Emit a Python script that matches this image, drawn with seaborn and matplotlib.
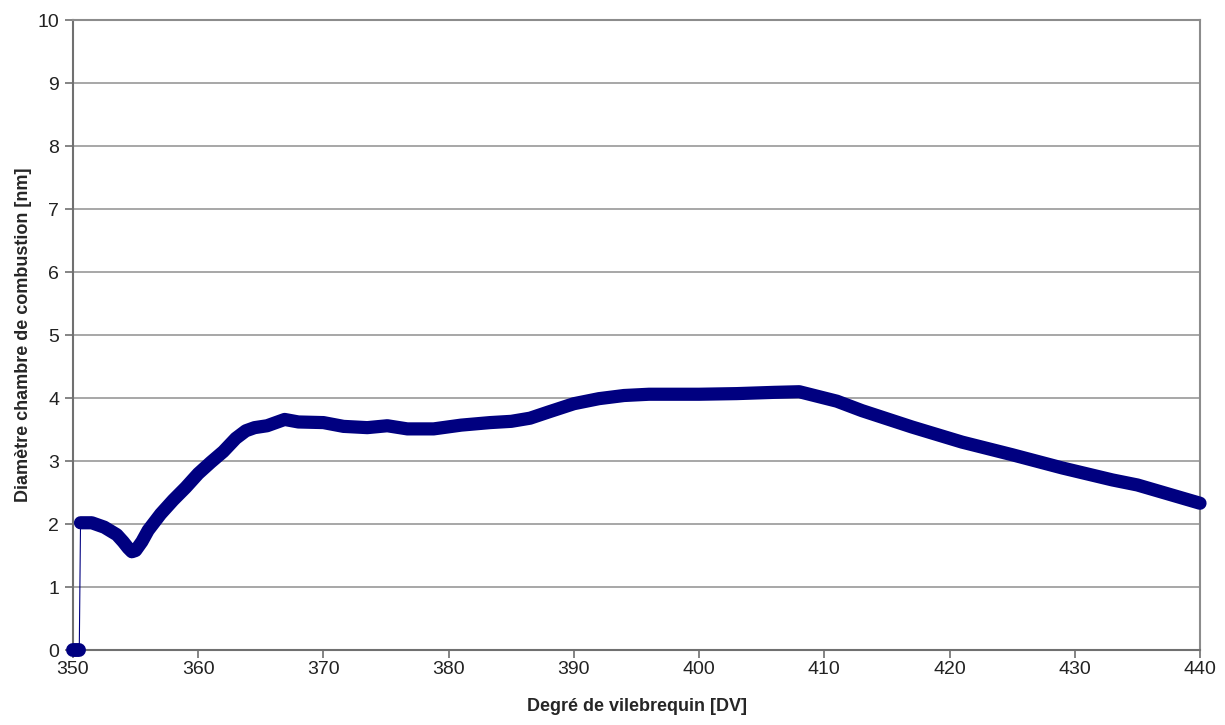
import numpy as np
import pandas as pd
import matplotlib
matplotlib.use("Agg")
import matplotlib.pyplot as plt
import seaborn as sns

# flat start at zero
x_zero = [350.0, 350.5]
y_zero = [0.0, 0.0]

# main curve
x_curve = [350.6, 351.5, 352.5, 353.5, 354.0, 354.4, 354.7, 355.0, 355.5, 356.0,
           357.0, 358.0,
           359.0, 360.0, 361.0, 362.0, 363.0, 363.8, 364.5, 365.5, 366.9, 368.0,
           370.0, 371.6, 373.5, 375.1, 376.7, 378.8, 381.0, 383.3, 385.0, 386.5,
           388.0, 390.0, 392.0, 394.0, 396.0, 400.0, 403.0, 406.0, 408.0, 409.0,
           411.0, 413.0, 417.0, 421.0, 425.0, 429.0, 433.0, 435.0, 440.0]
y_curve = [2.02, 2.02, 1.95, 1.83, 1.72, 1.62, 1.56, 1.58, 1.72, 1.90,
           2.16, 2.38,
           2.58, 2.80, 2.98, 3.15, 3.36, 3.48, 3.53, 3.56, 3.66, 3.62,
           3.61, 3.55, 3.53, 3.56, 3.51, 3.51, 3.57, 3.61, 3.63, 3.68,
           3.78, 3.91, 3.99, 4.04, 4.06, 4.06, 4.07, 4.09, 4.10, 4.05,
           3.95, 3.80, 3.54, 3.30, 3.10, 2.89, 2.70, 2.62, 2.33]

x_ticks = list(range(350, 441, 10))
y_ticks = list(range(0, 11))

sns.set_style("white")
plt.rcParams['font.family'] = ['Liberation Sans', 'DejaVu Sans']

fig = plt.figure(figsize=(12.25, 7.25), dpi=100)
ax = fig.add_axes([0.0596, 0.1034, 0.92, 0.869])

navy = "#000080"
df_curve = pd.DataFrame({"deg": x_curve, "diam": y_curve})
df_zero = pd.DataFrame({"deg": x_zero, "diam": y_zero})

# thin connecting line for the jump
ax.plot([x_zero[-1], x_curve[0]], [y_zero[-1], y_curve[0]], color=navy, lw=0.8, zorder=3)

sns.lineplot(data=df_zero, x="deg", y="diam", ax=ax, color=navy, lw=10,
             sort=False, estimator=None, solid_capstyle="round", clip_on=False, zorder=4)
sns.lineplot(data=df_curve, x="deg", y="diam", ax=ax, color=navy, lw=9.5,
             sort=False, estimator=None, solid_capstyle="round",
             solid_joinstyle="round", clip_on=False, zorder=4)

ax.set_xlim(350, 440)
ax.set_ylim(0, 10)
ax.set_xticks(x_ticks)
ax.set_yticks(y_ticks)
ax.yaxis.grid(True, color="#a0a0a0", lw=1.3)
ax.xaxis.grid(False)

for s in ["left", "bottom", "right", "top"]:
    ax.spines[s].set_color("#8c8c8c")
    ax.spines[s].set_linewidth(1.5)
ax.spines["left"].set_color("#707070")
ax.spines["bottom"].set_color("#707070")

ax.tick_params(axis="both", direction="out", length=6, width=1.2, color="#707070",
               labelsize=14, labelcolor="#222222", left=True, bottom=True)
ax.tick_params(axis="x", pad=2)
ax.tick_params(axis="y", pad=4)

ax.set_xlabel("Degré de vilebrequin [DV]", fontsize=13, fontweight="bold", labelpad=14)
ax.set_ylabel("Diamètre chambre de combustion [nm]", fontsize=13, fontweight="bold", labelpad=4)

fig.savefig("out.png", dpi=100, facecolor="white")
